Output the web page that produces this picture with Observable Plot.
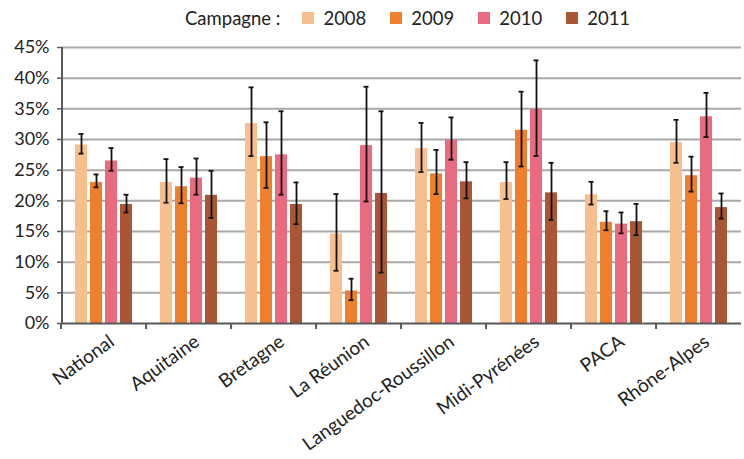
<!DOCTYPE html>
<html>
<head>
<meta charset="utf-8">
<script src="https://cdn.jsdelivr.net/npm/d3@7"></script>
<script src="https://cdn.jsdelivr.net/npm/@observablehq/plot@0.6"></script>
<style>
  html, body { margin: 0; padding: 0; background: #fff; overflow: hidden; }
  #wrap { position: relative; width: 744px; height: 459px; font-family: Lato, "Open Sans", sans-serif; color: #222; }
  #legend { position: absolute; left: 185px; top: 7px; height: 22px; display: flex; align-items: center; font-size: 18.5px; line-height: 22px; }
  #legend .title { margin-right: 22px; }
  #legend .item { display: flex; align-items: center; margin-right: 24px; }
  #legend .sw { width: 12px; height: 12px; margin-right: 9px; }
  #chart { position: absolute; left: 0; top: 0; }
</style>
</head>
<body>
<div id="wrap">
  <div id="chart"></div>
  <div id="legend"></div>
</div>
<script>
// ---- data ----
const regions = ["National", "Aquitaine", "Bretagne", "La Réunion", "Languedoc-Roussillon", "Midi-Pyrénées", "PACA", "Rhône-Alpes"];
const years = ["2008", "2009", "2010", "2011"];
const colors = ["#f8bf8e", "#ee7f2d", "#e96b80", "#a95634"];
const yTicks = [0, 5, 10, 15, 20, 25, 30, 35, 40, 45];
const legendTitle = "Campagne :";

const val2008 = [29.1, 23.0, 32.6, 14.6, 28.5, 23.0, 21.0, 29.5];
const lo2008  = [27.7, 19.7, 27.3,  8.6, 24.7, 20.3, 19.4, 26.2];
const hi2008  = [30.9, 26.8, 38.5, 21.1, 32.7, 26.3, 23.1, 33.2];

const val2009 = [23.0, 22.3, 27.2,  5.3, 24.4, 31.5, 16.5, 24.1];
const lo2009  = [22.2, 19.6, 22.1,  3.8, 21.1, 25.6, 15.2, 21.5];
const hi2009  = [24.3, 25.5, 32.8,  7.3, 28.3, 37.8, 18.3, 27.2];

const val2010 = [26.5, 23.7, 27.5, 29.0, 29.9, 34.9, 16.2, 33.7];
const lo2010  = [24.9, 21.0, 21.0, 19.9, 26.7, 27.3, 14.7, 30.4];
const hi2010  = [28.6, 26.9, 34.6, 38.6, 33.6, 42.9, 18.1, 37.6];

const val2011 = [19.4, 20.9, 19.4, 21.2, 23.1, 21.3, 16.6, 18.9];
const lo2011  = [18.1, 17.2, 16.2,  8.3, 20.4, 16.9, 14.4, 17.1];
const hi2011  = [21.0, 24.9, 23.0, 34.6, 26.3, 26.2, 19.5, 21.2];

const values = [val2008, val2009, val2010, val2011];
const lows = [lo2008, lo2009, lo2010, lo2011];
const highs = [hi2008, hi2009, hi2010, hi2011];

const data = years.flatMap((yr, j) => regions.map((r, i) => ({
  region: r, year: yr, value: values[j][i], lo: lows[j][i], hi: highs[j][i]
})));

// ---- layout ----
const W = 744, H = 459, mL = 57, mR = 0, mT = 47, mB = 136;
const slot = (W - mL - mR) / regions.length;
const pIn = 0.17, pOut = 0.83;
const xStep = slot / (years.length - pIn + 2 * pOut);
const xBw = xStep * (1 - pIn);
const firstCenter = xStep * pOut + xBw / 2;
const axisColor = "#595959";
const font = "Lato, 'Open Sans', sans-serif";

const chart = Plot.plot({
  width: W, height: H,
  marginLeft: mL, marginRight: mR, marginTop: mT, marginBottom: mB,
  style: { fontFamily: font, color: "#222", background: "#fff" },
  fx: { domain: regions, padding: 0, label: null },
  x: { domain: years, paddingInner: pIn, paddingOuter: pOut, axis: null },
  y: { domain: [0, 45], label: null },
  color: { domain: years, range: colors },
  marks: [
    Plot.ruleY(yTicks.filter(d => d > 0), { stroke: "#a8a8a8", strokeWidth: 2 }),
    Plot.barY(data, { fx: "region", x: "year", y: "value", fill: "year" }),
    Plot.ruleX(data, { fx: "region", x: "year", y1: "lo", y2: "hi", stroke: "#111", strokeWidth: 1.8 }),
    Plot.tickY(data, { fx: "region", x: "year", y: "lo", stroke: "#111", strokeWidth: 1.8, insetLeft: 3.5, insetRight: 3.5 }),
    Plot.tickY(data, { fx: "region", x: "year", y: "hi", stroke: "#111", strokeWidth: 1.8, insetLeft: 3.5, insetRight: 3.5 }),
    Plot.ruleY([0], { stroke: axisColor, strokeWidth: 2 }),
    Plot.ruleX([regions[0]], { fx: d => d, x: () => years[0], y1: 0, y2: 45, dx: -firstCenter, stroke: axisColor, strokeWidth: 2 }),
    Plot.axisY({ ticks: yTicks, tickFormat: d => d + "%", tickSize: 4, tickPadding: 8, fontSize: 18, stroke: axisColor, strokeWidth: 1.5, fill: "#222", label: null }),
    Plot.axisFx({ anchor: "bottom", tickSize: 6, tickFormat: () => "", dx: -slot / 2, stroke: axisColor, strokeWidth: 2, label: null }),
    Plot.axisFx({ anchor: "bottom", tickSize: 0, tickPadding: 16, tickRotate: -36, dx: 8, fontSize: 19, fill: "#222", label: null })
  ]
});
document.getElementById("chart").appendChild(chart);

// ---- legend ----
const legend = document.getElementById("legend");
const t = document.createElement("span");
t.className = "title"; t.textContent = legendTitle;
legend.appendChild(t);
years.forEach((yr, j) => {
  const it = document.createElement("span"); it.className = "item";
  const sw = document.createElement("span"); sw.className = "sw"; sw.style.background = colors[j];
  const lb = document.createElement("span"); lb.textContent = yr;
  it.appendChild(sw); it.appendChild(lb); legend.appendChild(it);
});
</script>
</body>
</html>
